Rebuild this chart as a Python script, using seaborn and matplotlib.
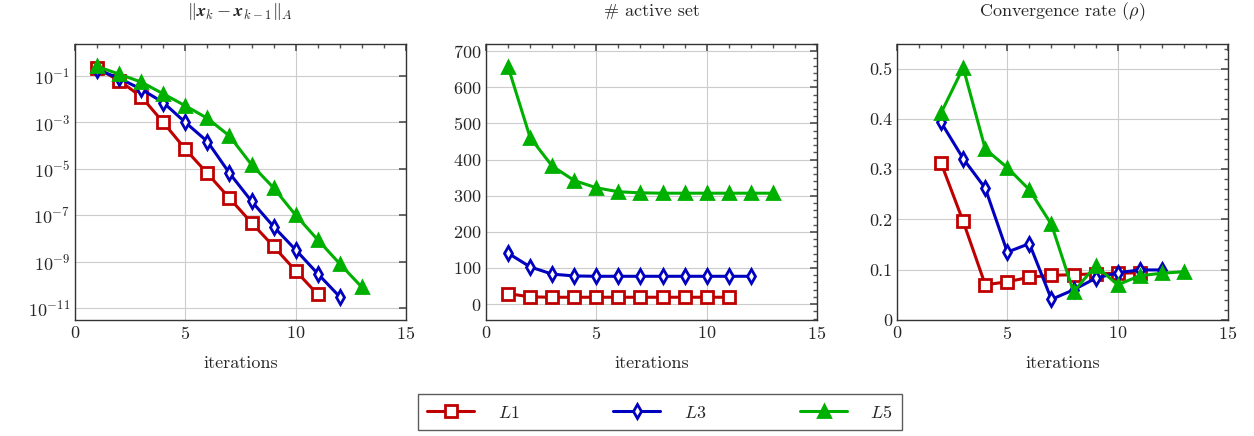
import numpy as np
import pandas as pd
import matplotlib
matplotlib.use("Agg")
import matplotlib.pyplot as plt
import seaborn as sns
from matplotlib.ticker import MultipleLocator, FixedLocator, LogFormatterMathtext, NullLocator

# iteration numbers
it_l1 = [1, 2, 3, 4, 5, 6, 7, 8, 9, 10, 11]
it_l3 = [1, 2, 3, 4, 5, 6, 7, 8, 9, 10, 11, 12]
it_l5 = [1, 2, 3, 4, 5, 6, 7, 8, 9, 10, 11, 12, 13]

# ||x_k - x_{k-1}||_A
err_l1 = [0.22, 0.063, 0.013, 1.0e-3, 7.0e-5, 6.3e-6, 5.4e-7, 4.7e-8, 4.5e-9, 4.0e-10, 3.8e-11]
err_l3 = [0.19, 0.08, 0.027, 7.2e-3, 1.0e-3, 1.5e-4, 6.5e-6, 4.0e-7, 3.2e-8, 3.2e-9, 3.0e-10, 3.0e-11]
err_l5 = [0.26, 0.12, 0.055, 0.017, 5.2e-3, 1.5e-3, 2.6e-4, 1.5e-5, 1.5e-6, 1.0e-7, 8.7e-9, 8.0e-10, 7.8e-11]

# active set size
act_l1 = [29, 20, 19, 19, 19, 19, 19, 19, 19, 19, 19]
act_l3 = [141, 103, 83, 78, 77, 77, 77, 77, 77, 77, 77, 77]
act_l5 = [657, 461, 382, 342, 322, 311, 308, 307, 307, 307, 307, 307, 307]

# convergence rate (starts at iteration 2)
rate_l1 = [0.312, 0.196, 0.070, 0.076, 0.085, 0.089, 0.090, 0.092, 0.093, 0.094]
rate_l3 = [0.393, 0.321, 0.262, 0.135, 0.152, 0.041, 0.060, 0.083, 0.094, 0.0996, 0.0996]
rate_l5 = [0.412, 0.502, 0.340, 0.303, 0.259, 0.190, 0.056, 0.108, 0.070, 0.088, 0.093, 0.096]

labels = ["$L1$", "$L3$", "$L5$"]
colors = ["#bf0000", "#0000bf", "#00b000"]
markers = ["s", "d", "^"]
filled = [False, False, True]

sns.set_theme(style="white")
plt.rcParams["font.family"] = ["cmr10", "DejaVu Serif"]
plt.rcParams["mathtext.fontset"] = "cm"
plt.rcParams["axes.formatter.use_mathtext"] = True

FS = 13

fig = plt.figure(figsize=(12.54, 4.36), dpi=100)
W, H = 1254, 436
lefts = [75, 486, 897]
axes = [fig.add_axes([l / W, (H - 320) / H, 331 / W, 276 / H]) for l in lefts]

panels = [
    ([it_l1, it_l3, it_l5], [err_l1, err_l3, err_l5]),
    ([it_l1, it_l3, it_l5], [act_l1, act_l3, act_l5]),
    ([it_l1[1:], it_l3[1:], it_l5[1:]], [rate_l1, rate_l3, rate_l5]),
]

for ax, (xs, ys) in zip(axes, panels):
    for i in range(3):
        df = pd.DataFrame({"iterations": xs[i], "value": ys[i]})
        sns.lineplot(data=df, x="iterations", y="value", ax=ax, color=colors[i],
                     marker=markers[i], markersize=8 if markers[i] != "d" else 7,
                     markerfacecolor=colors[i] if filled[i] else "white",
                     markeredgecolor=colors[i], markeredgewidth=2,
                     linewidth=2.2, label=labels[i], legend=False)

titles = [r"$\Vert\boldsymbol{x}_k-\boldsymbol{x}_{k-1}\Vert_A$", r"# active set", r"Convergence rate ($\rho$)"]

for ax, t in zip(axes, titles):
    ax.set_xlim(0, 15)
    ax.xaxis.set_major_locator(MultipleLocator(5))
    ax.xaxis.set_minor_locator(MultipleLocator(1))
    ax.set_xlabel("iterations", fontsize=FS, labelpad=10)
    ax.set_ylabel("")
    ax.set_title(t, fontsize=FS, pad=20)
    ax.grid(True, which="major", color="#cccccc", linewidth=0.8)
    ax.tick_params(which="both", direction="in", top=True, right=True, labelsize=FS,
                   color="#555555")
    ax.tick_params(which="major", length=5)
    ax.tick_params(which="minor", length=3)
    for s in ax.spines.values():
        s.set_color("#333333")
        s.set_linewidth(1.0)

ax = axes[0]
ax.set_yscale("log")
ax.set_ylim(10 ** -11.52, 10 ** 0.38)
ax.yaxis.set_major_locator(FixedLocator([1e-1, 1e-3, 1e-5, 1e-7, 1e-9, 1e-11]))
ax.yaxis.set_major_formatter(LogFormatterMathtext())
ax.yaxis.set_minor_locator(NullLocator())

ax = axes[1]
ax.set_ylim(-44, 720)
ax.yaxis.set_major_locator(MultipleLocator(100))
ax.yaxis.set_minor_locator(MultipleLocator(20))

ax = axes[2]
ax.set_ylim(0, 0.549)
ax.yaxis.set_major_locator(MultipleLocator(0.1))
ax.yaxis.set_minor_locator(MultipleLocator(0.02))
ax.yaxis.set_major_formatter(matplotlib.ticker.FuncFormatter(lambda v, p: "0" if abs(v) < 1e-9 else f"{v:.1f}"))

handles, labs = axes[0].get_legend_handles_labels()
leg = fig.legend(handles, labs, loc="center", bbox_to_anchor=(660 / W, (H - 412) / H),
                 ncol=3, frameon=True, fancybox=False, edgecolor="#333333",
                 fontsize=FS, handlelength=2.6, columnspacing=5.2, borderpad=0.5,
                 handletextpad=1.3, borderaxespad=0)
leg.get_frame().set_linewidth(1.0)

fig.savefig("out.png", dpi=100)
